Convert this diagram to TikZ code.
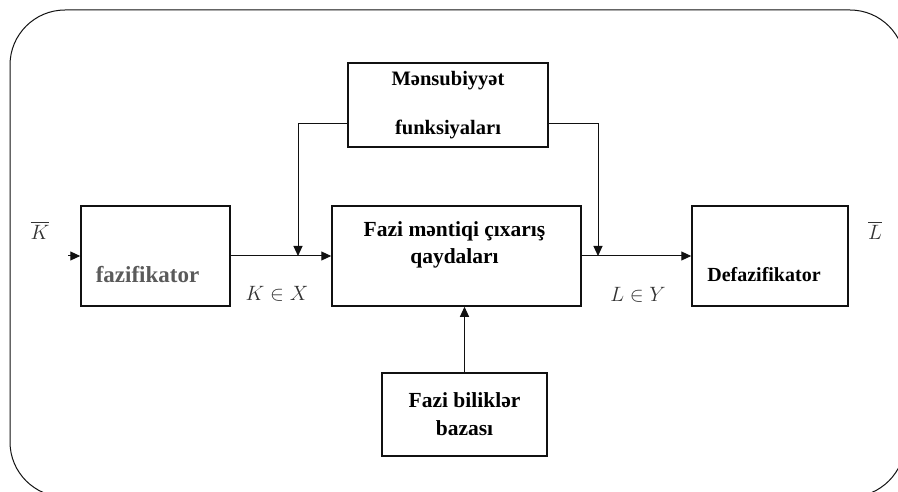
\documentclass[tikz,border=0pt]{standalone}
\usepackage{fontspec}
\setmainfont{Liberation Serif}
\usepackage{amsmath,amssymb}
\usetikzlibrary{calc,arrows.meta}
\definecolor{ink}{HTML}{111111}
\definecolor{greytext}{HTML}{5A5A5A}
\definecolor{mathtext}{HTML}{333333}
\tikzset{
  block/.style={draw=ink, line width=1.5pt, inner sep=0pt, align=center, font=\fontsize{21.5}{28}\selectfont\bfseries},
  flow/.style={draw=ink, line width=1pt, -{Triangle[length=10pt,width=9pt]}},
  lab/.style={text=mathtext, font=\fontsize{20}{22}\selectfont},
  frame/.style={draw=ink, line width=1pt, rounded corners=55pt},
}

\begin{document}
\begin{tikzpicture}[x=1pt,y=-1pt]
\useasboundingbox (0,0) rectangle (898,492);
\begin{scope}
\clip (0,0) rectangle (898,492);
\draw[frame] (10,10) rectangle (905,497);
\end{scope}

% blocks
\node[block, minimum width=149pt, minimum height=100pt,
  label={[text=greytext, font=\fontsize{23}{24}\selectfont\bfseries, xshift=-8pt, yshift=-19pt]center:fazifikator}] (fuzz) at (155.5,256) {};
\node[block, minimum width=249pt, minimum height=100pt,
  label={[font=\fontsize{21.5}{27}\selectfont\bfseries, align=center, xshift=-2pt, yshift=11pt]center:Fazi məntiqi çıxarış\\qaydaları}] (rules) at (456.5,256) {};
\node[block, minimum width=156pt, minimum height=100pt,
  label={[font=\fontsize{20}{22}\selectfont\bfseries, xshift=-6pt, yshift=-19pt]center:Defazifikator}] (defuzz) at (770,256) {};
\node[block, minimum width=200pt, minimum height=84pt, font=\fontsize{20.5}{24}\selectfont\bfseries] (member) at (448,105) {Mənsubiyyət\\[25pt]funksiyaları};
\node[block, minimum width=165pt, minimum height=83pt] (base) at (464.5,414.5) {Fazi biliklər\\bazası};

% labels
\node[lab] (kbar) at (40,230) {$\overline{K}$};
\node[lab] (lbar) at (875,230) {$\overline{L}$};
\node[lab] (kx) at (277,294) {$K\in X$};
\node[lab] (ly) at (638,295) {$L\in Y$};

% connectors
\coordinate (kin) at (68,256);
\coordinate (jk) at (298,256);
\coordinate (jl) at (598,256);
\draw[flow] (kin) -- (fuzz.west);
\draw[flow] (fuzz.east) -- (rules.west);
\draw[flow] (rules.east) -- (defuzz.west);
\draw[flow] ([yshift=-19pt]member.west) -| (jk);
\draw[flow] ([yshift=-19pt]member.east) -| (jl);
\draw[flow] (base.north) -- (base.north |- rules.south);
\end{tikzpicture}
\end{document}
